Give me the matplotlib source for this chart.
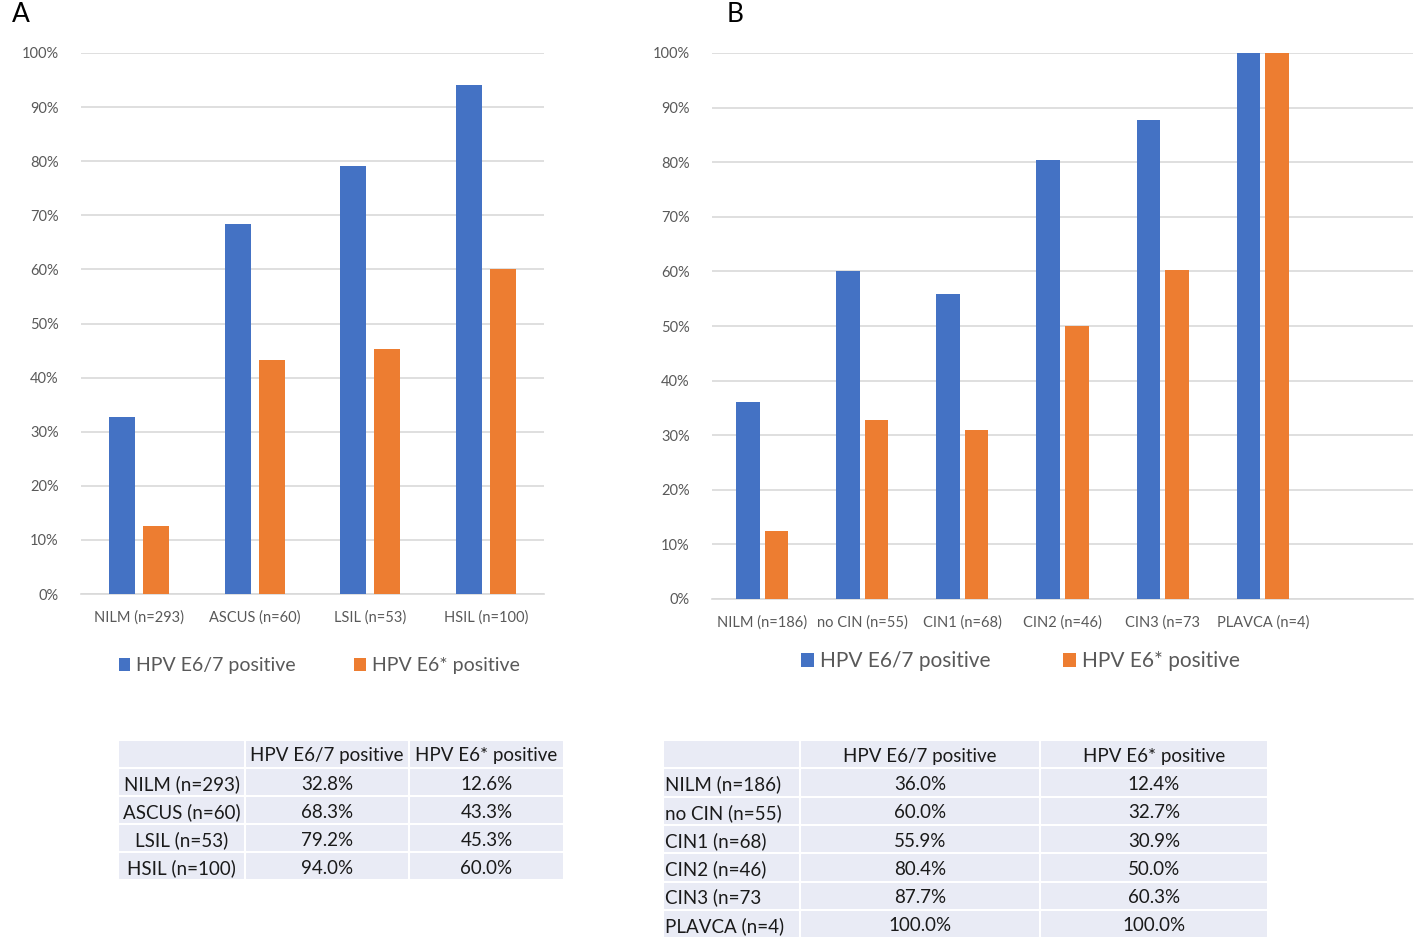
import matplotlib
matplotlib.use('Agg')
import matplotlib.pyplot as plt
from matplotlib.patches import Rectangle
import numpy as np

plt.rcParams['font.family'] = ['Lato', 'DejaVu Sans']

# ---- data ----
series_names = ['HPV E6/7 positive', 'HPV E6* positive']

cyto_labels = ['NILM (n=293)', 'ASCUS (n=60)', 'LSIL (n=53)', 'HSIL (n=100)']
cyto_e67 = [32.8, 68.3, 79.2, 94.0]
cyto_e6 = [12.6, 43.3, 45.3, 60.0]

histo_labels = ['NILM (n=186)', 'no CIN (n=55)', 'CIN1 (n=68)', 'CIN2 (n=46)',
                'CIN3 (n=73', 'PLAVCA (n=4)']
histo_e67 = [36.0, 60.0, 55.9, 80.4, 87.7, 100.0]
histo_e6 = [12.4, 32.7, 30.9, 50.0, 60.3, 100.0]

BLUE = '#4472C4'
ORANGE = '#ED7D31'
TICK_GRAY = '#595959'
GRID = '#D9D9D9'
TABLE_BG = '#E9EBF5'

fig = plt.figure(figsize=(14.16, 9.4), dpi=100)


def bar_panel(ax, labels, e67, e6, n_slots, width, gap):
    x = np.arange(len(labels))
    off = (width + gap) / 2
    ax.bar(x - off, e67, width, color=BLUE, label=series_names[0], zorder=3)
    ax.bar(x + off, e6, width, color=ORANGE, label=series_names[1], zorder=3)
    ax.set_xlim(-0.5, n_slots - 0.5)
    ax.set_ylim(0, 100)
    ax.set_yticks(np.arange(0, 101, 10))
    ax.set_yticklabels([f'{v}%' for v in range(0, 101, 10)])
    ax.set_xticks(x)
    ax.set_xticklabels(labels)
    ax.yaxis.grid(True, color=GRID, linewidth=1.2, zorder=0)
    for s in ['top', 'right', 'left']:
        ax.spines[s].set_visible(False)
    ax.spines['bottom'].set_color(GRID)
    ax.spines['bottom'].set_linewidth(1.2)
    ax.tick_params(axis='both', length=0, colors=TICK_GRAY, labelsize=10.5)
    ax.tick_params(axis='y', pad=16)
    ax.tick_params(axis='x', pad=12)


axA = fig.add_axes([81 / 1416, 1 - 594 / 940, 463 / 1416, 541 / 940])
bar_panel(axA, cyto_labels, cyto_e67, cyto_e6, 4, 0.225, 0.07)
axA.legend(loc='center', bbox_to_anchor=(0.514, -0.133), ncol=2, frameon=False,
           fontsize=14, handlelength=0.6, handleheight=0.6, handletextpad=0.3,
           columnspacing=3.0, labelcolor=TICK_GRAY)

axB = fig.add_axes([712 / 1416, 1 - 599 / 940, 701 / 1416, 546 / 940])
bar_panel(axB, histo_labels, histo_e67, histo_e6, 7, 0.235, 0.05)
axB.legend(loc='center', bbox_to_anchor=(0.44, -0.114), ncol=2, frameon=False,
           fontsize=15, handlelength=0.6, handleheight=0.6, handletextpad=0.3,
           columnspacing=3.5, labelcolor=TICK_GRAY)

fig.text(12 / 1416, 1 - 15 / 940, 'A', fontsize=19, va='center', ha='left')
fig.text(727 / 1416, 1 - 15 / 940, 'B', fontsize=19, va='center', ha='left')

# ---- tables (overlay axes in pixel coordinates) ----
tax = fig.add_axes([0, 0, 1, 1])
tax.set_xlim(0, 1416)
tax.set_ylim(940, 0)
tax.axis('off')


def draw_table(x0, y0, col_w, row_h, row_labels, c1, c2, label_ha):
    rows = [('', series_names[0], series_names[1])]
    rows += [(lab, f'{a:.1f}%', f'{b:.1f}%') for lab, a, b in zip(row_labels, c1, c2)]
    xs = np.concatenate([[x0], x0 + np.cumsum(col_w)])
    for r, row in enumerate(rows):
        y = y0 + r * row_h
        ty = y + row_h / 2 + 2
        for c, txt in enumerate(row):
            tax.add_patch(Rectangle((xs[c], y), col_w[c], row_h, facecolor=TABLE_BG,
                                    edgecolor='white', linewidth=1.5))
            if c == 0 and label_ha == 'left':
                tax.text(xs[c] + 2, ty, txt, ha='left', va='center',
                         fontsize=13.5, color='#1a1a1a')
            else:
                tax.text((xs[c] + xs[c + 1]) / 2, ty, txt, ha='center',
                         va='center', fontsize=13.5, color='#1a1a1a')


draw_table(118, 740, [127, 164, 155], 28.0, cyto_labels, cyto_e67, cyto_e6, 'center')
draw_table(663, 740, [137, 240, 228], 28.3, histo_labels, histo_e67, histo_e6, 'left')

fig.savefig('out.png', dpi=100)
